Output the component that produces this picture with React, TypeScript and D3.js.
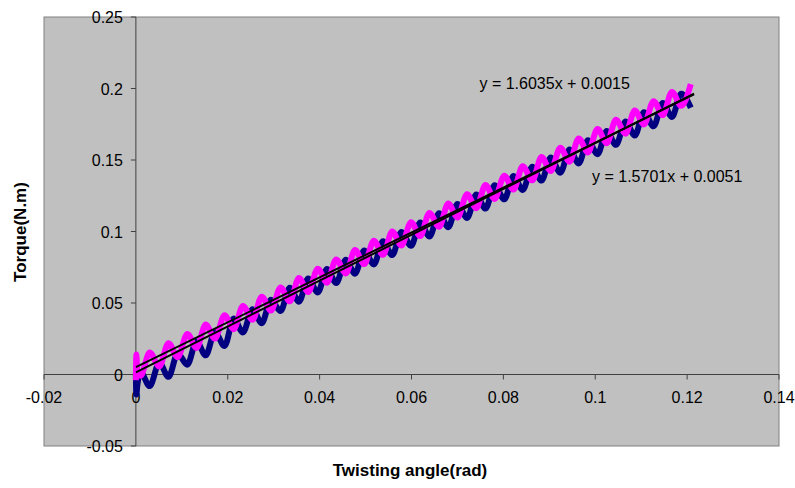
import React from "react";
import * as d3 from "d3";

const xTicks = [-0.02, 0, 0.02, 0.04, 0.06, 0.08, 0.1, 0.12, 0.14];
const yTicks = [-0.05, 0, 0.05, 0.1, 0.15, 0.2, 0.25];
const xTickLabels = ["-0.02", "0", "0.02", "0.04", "0.06", "0.08", "0.1", "0.12", "0.14"];
const yTickLabels = ["-0.05", "0", "0.05", "0.1", "0.15", "0.2", "0.25"];

// sample angles (rad) at wave peaks / troughs
const waveX = [
  0.0010, 0.0030, 0.0051, 0.0071, 0.0091, 0.0112, 0.0132, 0.0152, 0.0172, 0.0193,
  0.0213, 0.0233, 0.0254, 0.0274, 0.0294, 0.0315, 0.0335, 0.0355, 0.0375, 0.0396,
  0.0416, 0.0436, 0.0457, 0.0477, 0.0497, 0.0518, 0.0538, 0.0558, 0.0578, 0.0599,
  0.0619, 0.0639, 0.0660, 0.0680, 0.0700, 0.0721, 0.0741, 0.0761, 0.0781, 0.0802,
  0.0822, 0.0842, 0.0863, 0.0883, 0.0903, 0.0924, 0.0944, 0.0964, 0.0984, 0.1005,
  0.1025, 0.1045, 0.1066, 0.1086, 0.1106, 0.1127, 0.1147, 0.1167, 0.1187, 0.1208,
];

const magentaStartX = [0, 0.0001, 0.0003];
const magentaStartY = [-0.004, 0.014, 0.003];
const magentaY = [
  -0.0009, 0.0154, 0.0056, 0.0219, 0.0121, 0.0284, 0.0186, 0.0349, 0.0251, 0.0414,
  0.0317, 0.0479, 0.0382, 0.0544, 0.0447, 0.0609, 0.0512, 0.0674, 0.0577, 0.0739,
  0.0642, 0.0805, 0.0707, 0.0870, 0.0772, 0.0935, 0.0837, 0.1000, 0.0902, 0.1065,
  0.0968, 0.1130, 0.1033, 0.1195, 0.1098, 0.1260, 0.1163, 0.1325, 0.1228, 0.1390,
  0.1293, 0.1456, 0.1358, 0.1521, 0.1423, 0.1586, 0.1488, 0.1651, 0.1553, 0.1716,
  0.1618, 0.1781, 0.1684, 0.1846, 0.1749, 0.1911, 0.1814, 0.1976, 0.1879, 0.2030,
];

const navyStartX = [0, 0.0001, 0.0003];
const navyStartY = [0.0, -0.014, -0.008];
const navyY = [
  0.0016, -0.0081, 0.0081, -0.0016, 0.0146, 0.0069, 0.0231, 0.0134, 0.0296, 0.0199,
  0.0392, 0.0294, 0.0457, 0.0359, 0.0522, 0.0444, 0.0607, 0.0509, 0.0672, 0.0574,
  0.0737, 0.0640, 0.0802, 0.0705, 0.0867, 0.0770, 0.0932, 0.0835, 0.0997, 0.0900,
  0.1063, 0.0965, 0.1128, 0.1030, 0.1193, 0.1095, 0.1258, 0.1160, 0.1323, 0.1225,
  0.1388, 0.1291, 0.1453, 0.1356, 0.1518, 0.1411, 0.1573, 0.1476, 0.1638, 0.1541,
  0.1703, 0.1606, 0.1769, 0.1671, 0.1834, 0.1736, 0.1899, 0.1801, 0.1964, 0.1866,
];

const trendSlopes = [1.6035, 1.5701];
const trendIntercepts = [0.0015, 0.0051];
const trendRange = [0, 0.1215];
const trendLabels = ["y = 1.6035x + 0.0015", "y = 1.5701x + 0.0051"];
const trendLabelPos = [
  [0.0748, 0.2],
  [0.0993, 0.1345],
];

const W = 795;
const H = 488;
const plot = { left: 44, right: 779, top: 17, bottom: 446 };

export default function App() {
  const x = d3.scaleLinear().domain([-0.02, 0.14]).range([plot.left, plot.right]);
  const y = d3.scaleLinear().domain([-0.05, 0.25]).range([plot.bottom, plot.top]);
  const line = d3
    .line<[number, number]>()
    .x((d) => x(d[0]))
    .y((d) => y(d[1]))
    .curve(d3.curveMonotoneX);

  const magentaPts: [number, number][] = [
    ...magentaStartX.map((v, i) => [v, magentaStartY[i]] as [number, number]),
    ...waveX.map((v, i) => [v, magentaY[i]] as [number, number]),
  ];
  const navyPts: [number, number][] = [
    ...navyStartX.map((v, i) => [v, navyStartY[i]] as [number, number]),
    ...waveX.map((v, i) => [v, navyY[i]] as [number, number]),
  ];

  const x0 = x(0);
  const y0 = y(0);
  const font = "Arial, 'Liberation Sans', sans-serif";

  return (
    <svg
      width={W}
      height={H}
      style={{ position: "absolute", left: 0, top: 0, background: "#fff" }}
      fontFamily={font}
    >
      <rect
        x={plot.left}
        y={plot.top}
        width={plot.right - plot.left}
        height={plot.bottom - plot.top}
        fill="#C0C0C0"
        stroke="#808080"
        strokeWidth={1}
      />
      {/* axes */}
      <line x1={plot.left} x2={plot.right} y1={y0} y2={y0} stroke="#404040" strokeWidth={1} />
      <line x1={x0} x2={x0} y1={plot.top} y2={plot.bottom} stroke="#404040" strokeWidth={1} />
      {xTicks.map((t, i) => (
        <g key={"xt" + i}>
          <line x1={x(t)} x2={x(t)} y1={y0} y2={y0 + 5} stroke="#404040" />
          <text x={x(t)} y={y0 + 28} textAnchor="middle" fontSize={16} fill="#000">
            {xTickLabels[i]}
          </text>
        </g>
      ))}
      {yTicks.map((t, i) => (
        <g key={"yt" + i}>
          <line x1={x0 - 5} x2={x0} y1={y(t)} y2={y(t)} stroke="#404040" />
          <text x={x0 - 13} y={y(t) + 6} textAnchor="end" fontSize={16} fill="#000">
            {yTickLabels[i]}
          </text>
        </g>
      ))}
      {/* series */}
      <path d={line(navyPts) || ""} fill="none" stroke="#000080" strokeWidth={6} strokeLinejoin="round" />
      <path d={line(magentaPts) || ""} fill="none" stroke="#FF00FF" strokeWidth={6} strokeLinejoin="round" />
      {/* trendlines */}
      {trendSlopes.map((s, i) => (
        <line
          key={"tr" + i}
          x1={x(trendRange[0])}
          y1={y(s * trendRange[0] + trendIntercepts[i])}
          x2={x(trendRange[1])}
          y2={y(s * trendRange[1] + trendIntercepts[i])}
          stroke="#000"
          strokeWidth={2}
        />
      ))}
      {trendLabels.map((l, i) => (
        <text key={"tl" + i} x={x(trendLabelPos[i][0])} y={y(trendLabelPos[i][1])} fontSize={16} fill="#000">
          {l}
        </text>
      ))}
      {/* axis titles */}
      <text x={410} y={476} textAnchor="middle" fontSize={17} fontWeight="bold" fill="#000">
        Twisting angle(rad)
      </text>
      <text
        transform={`translate(26,232) rotate(-90)`}
        textAnchor="middle"
        fontSize={17}
        fontWeight="bold"
        fill="#000"
      >
        Torque(N.m)
      </text>
    </svg>
  );
}
